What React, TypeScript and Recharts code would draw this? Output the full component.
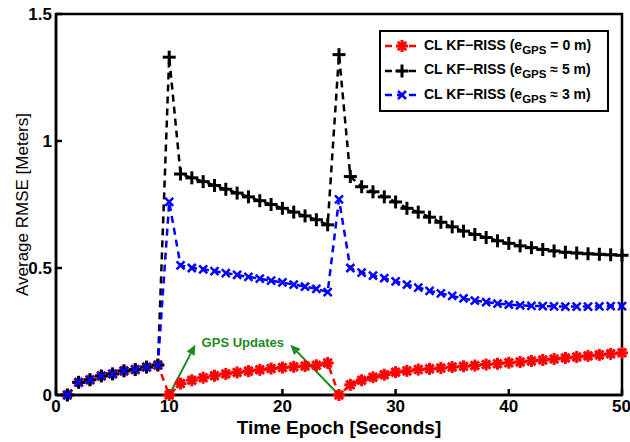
import React from 'react'
import { LineChart, Line, XAxis, YAxis, ReferenceLine, ReferenceDot, ReferenceArea } from 'recharts'

const epochs = [
  1, 2, 3, 4, 5, 6, 7, 8, 9, 10, 11, 12, 13, 14, 15, 16, 17, 18, 19, 20, 21, 22, 23, 24, 25,
  26, 27, 28, 29, 30, 31, 32, 33, 34, 35, 36, 37, 38, 39, 40, 41, 42, 43, 44, 45, 46, 47, 48, 49, 50
]

// e_GPS = 0 m
const rmseZero = [
  0, 0.05, 0.06, 0.075, 0.083, 0.095, 0.1, 0.11, 0.118, 0,
  0.045, 0.058, 0.068, 0.076, 0.083, 0.089, 0.094, 0.099, 0.104, 0.108, 0.111, 0.114, 0.117, 0.126, 0,
  0.04, 0.058, 0.07, 0.08, 0.09, 0.095, 0.1, 0.103, 0.106, 0.11, 0.113, 0.116, 0.12, 0.123, 0.127,
  0.13, 0.134, 0.138, 0.142, 0.146, 0.15, 0.154, 0.158, 0.162, 0.166
]

// e_GPS ~ 5 m
const rmseFive = [
  0, 0.05, 0.06, 0.075, 0.083, 0.095, 0.1, 0.11, 0.118, 1.33,
  0.87, 0.855, 0.84, 0.825, 0.81, 0.795, 0.78, 0.765, 0.75, 0.735, 0.72, 0.705, 0.69, 0.67, 1.34,
  0.86, 0.82, 0.8, 0.78, 0.76, 0.735, 0.72, 0.7, 0.68, 0.662, 0.645, 0.632, 0.62, 0.607, 0.597,
  0.587, 0.58, 0.573, 0.567, 0.562, 0.559, 0.556, 0.554, 0.552, 0.55
]

// e_GPS ~ 3 m
const rmseThree = [
  0, 0.05, 0.06, 0.075, 0.083, 0.095, 0.1, 0.11, 0.118, 0.76,
  0.51, 0.5, 0.495, 0.488, 0.48, 0.473, 0.465, 0.458, 0.45, 0.443, 0.435, 0.427, 0.418, 0.405, 0.77,
  0.5, 0.482, 0.47, 0.46, 0.447, 0.435, 0.423, 0.41, 0.4, 0.39, 0.38, 0.372, 0.366, 0.36, 0.356,
  0.353, 0.351, 0.35, 0.349, 0.348, 0.348, 0.348, 0.349, 0.35, 0.35
]

const xTicks = [0, 10, 20, 30, 40, 50]
const yTicks = [0, 0.5, 1, 1.5]

const data = epochs.map((t, i) => ({ t, zero: rmseZero[i], five: rmseFive[i], three: rmseThree[i] }))

const FONT = '"Liberation Sans", Arial, sans-serif'
const GREEN = '#1e8a1e'

const Asterisk = ({ cx, cy, color }: any) => {
  const r = 6
  return (
    <g stroke={color} strokeWidth={3} strokeLinecap="butt">
      <line x1={cx - r} y1={cy} x2={cx + r} y2={cy} />
      <line x1={cx} y1={cy - r} x2={cx} y2={cy + r} />
      <line x1={cx - r * 0.7} y1={cy - r * 0.7} x2={cx + r * 0.7} y2={cy + r * 0.7} />
      <line x1={cx - r * 0.7} y1={cy + r * 0.7} x2={cx + r * 0.7} y2={cy - r * 0.7} />
    </g>
  )
}

const Plus = ({ cx, cy, color }: any) => {
  const r = 6.5
  return (
    <g stroke={color} strokeWidth={3}>
      <line x1={cx - r} y1={cy} x2={cx + r} y2={cy} />
      <line x1={cx} y1={cy - r} x2={cx} y2={cy + r} />
    </g>
  )
}

const Cross = ({ cx, cy, color }: any) => {
  const r = 4
  return (
    <g stroke={color} strokeWidth={2.5}>
      <line x1={cx - r} y1={cy - r} x2={cx + r} y2={cy + r} />
      <line x1={cx - r} y1={cy + r} x2={cx + r} y2={cy - r} />
    </g>
  )
}

const Arrow = (props: any) => {
  const { x1, y1, x2, y2 } = props
  const a = Math.atan2(y2 - y1, x2 - x1)
  const len = 10
  const w = 4.5
  const bx = x2 - len * Math.cos(a)
  const by = y2 - len * Math.sin(a)
  const pts = [
    `${x2},${y2}`,
    `${bx + w * Math.sin(a)},${by - w * Math.cos(a)}`,
    `${bx - w * Math.sin(a)},${by + w * Math.cos(a)}`
  ].join(' ')
  return (
    <g>
      <line x1={x1} y1={y1} x2={bx} y2={by} stroke={GREEN} strokeWidth={2} />
      <polygon points={pts} fill={GREEN} />
    </g>
  )
}

const legendRows = [
  { color: '#ff0000', Marker: Asterisk, rel: '= 0 m)' },
  { color: '#000000', Marker: Plus, rel: '≈ 5 m)' },
  { color: '#0000ff', Marker: Cross, rel: '≈ 3 m)' }
]

const LegendBox = () => (
  <div
    style={{
      position: 'absolute', left: 379, top: 30, width: 230, boxSizing: 'border-box',
      border: '2px solid #000', background: '#fff', padding: '2px 4px',
      fontFamily: FONT, fontWeight: 'bold', fontSize: 14
    }}
  >
    {legendRows.map(({ color, Marker, rel }) => (
      <div key={rel} style={{ display: 'flex', alignItems: 'center', height: 24.5 }}>
        <svg width={34} height={16} style={{ marginRight: 5, flexShrink: 0 }}>
          <line x1={0} y1={8} x2={34} y2={8} stroke={color} strokeWidth={2.5} strokeDasharray="7 5" />
          <Marker cx={17} cy={8} color={color} />
        </svg>
        <span style={{ whiteSpace: 'nowrap' }}>
          CL KF−RISS (e<sub style={{ fontSize: 11.5, verticalAlign: -4 }}>GPS</sub> {rel}
        </span>
      </div>
    ))}
  </div>
)

export default function App() {
  return (
    <div style={{ position: 'absolute', left: 0, top: 0, width: 630, height: 442, background: '#fff' }}>
      <LineChart width={630} height={442} data={data} margin={{ top: 14, right: 8, left: 0, bottom: 0 }}>
        <XAxis
          dataKey="t"
          type="number"
          domain={[0, 50]}
          ticks={xTicks}
          stroke="#000"
          strokeWidth={2.5}
          tickSize={-6}
          tickMargin={11}
          height={47}
          tick={{ fill: '#000', fontSize: 17, fontWeight: 'bold', fontFamily: FONT }}
          label={{ value: 'Time Epoch [Seconds]', position: 'insideBottom', offset: 8, fill: '#000', fontSize: 19, fontWeight: 'bold', fontFamily: FONT }}
        />
        <XAxis
          xAxisId="top"
          orientation="top"
          dataKey="t"
          type="number"
          domain={[0, 50]}
          ticks={xTicks}
          stroke="#000"
          strokeWidth={2.5}
          tickSize={-6}
          height={0}
          tick={false}
        />
        <YAxis
          type="number"
          domain={[0, 1.5]}
          ticks={yTicks}
          stroke="#000"
          strokeWidth={2.5}
          tickSize={-6}
          tickMargin={10}
          width={56}
          tick={{ fill: '#000', fontSize: 17, fontWeight: 'bold', fontFamily: FONT }}
          label={{ value: 'Average RMSE [Meters]', angle: -90, position: 'center', dx: -6, fill: '#000', fontSize: 17, fontFamily: FONT }}
        />
        <YAxis
          yAxisId="right"
          orientation="right"
          type="number"
          domain={[0, 1.5]}
          ticks={yTicks}
          stroke="#000"
          strokeWidth={2.5}
          tickSize={-6}
          width={0}
          tick={false}
        />
        <ReferenceArea x1={0} x2={50} y1={0} y2={1.5} fill="none" stroke="#000" strokeWidth={2.5} ifOverflow="visible" />
        <Line
          dataKey="zero"
          name="zero"
          stroke="#ff0000"
          strokeWidth={2.5}
          strokeDasharray="7 5"
          dot={(p: any) => <Asterisk key={p.index} cx={p.cx} cy={p.cy} color="#ff0000" />}
          isAnimationActive={false}
        />
        <Line
          dataKey="five"
          name="five"
          stroke="#000000"
          strokeWidth={2.5}
          strokeDasharray="7 5"
          dot={(p: any) => <Plus key={p.index} cx={p.cx} cy={p.cy} color="#000000" />}
          isAnimationActive={false}
        />
        <Line
          dataKey="three"
          name="three"
          stroke="#0000ff"
          strokeWidth={2.5}
          strokeDasharray="7 5"
          dot={(p: any) => <Cross key={p.index} cx={p.cx} cy={p.cy} color="#0000ff" />}
          isAnimationActive={false}
        />
        <ReferenceLine segment={[{ x: 10, y: 0 }, { x: 12.3, y: 0.198 }]} shape={Arrow} ifOverflow="visible" />
        <ReferenceLine segment={[{ x: 25, y: 0 }, { x: 20.7, y: 0.198 }]} shape={Arrow} ifOverflow="visible" />
        <ReferenceDot
          x={16.5}
          y={0.208}
          r={0}
          fill="none"
          stroke="none"
          label={{ value: 'GPS Updates', position: 'center', fill: GREEN, fontSize: 13, fontWeight: 'bold', fontFamily: FONT }}
        />
      </LineChart>
      <LegendBox />
    </div>
  )
}
